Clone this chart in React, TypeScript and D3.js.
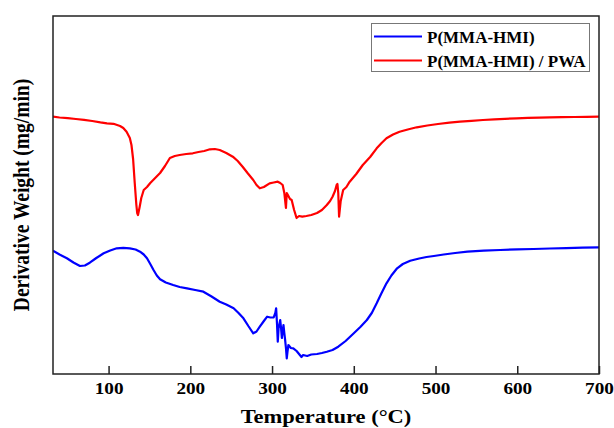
import React, { useEffect, useRef } from "react";
import * as d3 from "d3";

// temperature (°C) and derivative weight (arbitrary units, offset curves)
const redTemp = [32, 40, 50, 60, 70, 80, 90, 98, 106, 114, 118, 122, 126, 128, 130, 132, 134, 135, 136, 138, 140, 143, 147, 151, 157, 163, 169, 175, 181, 187, 195, 203, 210, 217, 224, 230, 236, 244, 252, 258, 264, 270, 277, 281, 285, 290, 297, 302, 307, 310, 313, 315, 317, 318, 320, 322, 324, 327, 330, 333, 337, 342, 348, 355, 361, 367, 371, 374, 377, 379, 380, 381, 382, 384, 387, 391, 395, 403, 411, 420, 428, 434, 440, 448, 456, 466, 477, 490, 503, 517, 530, 544, 558, 572, 585, 599, 613, 627, 640, 655, 670, 685, 700];
const redValue = [256.3, 255.5, 254.8, 254.0, 253.2, 252.0, 250.6, 249.7, 249.2, 247.0, 245.0, 241.3, 235, 228, 214, 190, 168, 160, 158, 166, 175, 183, 186, 190, 195, 200, 207, 215, 217, 218, 219, 219.7, 221, 222, 223.7, 224, 223, 220, 216.3, 212, 206.3, 200, 193, 188, 184.7, 186, 189.7, 190.5, 191.3, 190, 188, 180, 165, 180, 177, 174, 173, 163, 155, 157, 156.3, 157, 158, 160, 163, 168, 172, 176.3, 182, 188, 189, 180, 156.3, 172, 183, 186, 191.3, 199, 208, 216, 224.7, 230, 234.7, 238.5, 241.3, 243.5, 245.7, 247.5, 249, 250.3, 251.3, 252.2, 253, 253.7, 254.2, 254.7, 255.1, 255.4, 255.7, 255.9, 256, 256.2, 256.3];

const blueTemp = [32, 40, 49, 57, 65, 71, 77, 85, 94, 102, 110, 118, 126, 133, 138.5, 143, 147, 151, 155, 159, 163, 170, 179, 187, 196, 206, 216, 226, 236, 244, 253, 259, 265, 271, 277, 281, 285, 290, 294, 298, 302, 304, 305, 306, 307, 308, 310, 311, 312, 313, 314, 315, 316, 317, 318, 319, 320, 323, 326, 330, 334, 336, 338, 343, 348, 355, 361, 367, 374, 381, 390, 400, 408, 416, 422, 428, 434, 440, 446, 453, 460, 469, 480, 489, 498, 510, 524, 539, 559, 579, 600, 620, 640, 660, 680, 700];
const blueValue = [122.3, 118.5, 114.7, 110.5, 107, 107.5, 110.3, 115, 119.7, 122.5, 124.7, 125.2, 124.7, 123.5, 121.3, 118.5, 114.7, 109, 103, 97.5, 93.7, 90.5, 88, 86, 84.7, 83, 81.3, 76.5, 71.3, 68.5, 64.7, 60, 54.7, 47, 39.7, 41.5, 46.3, 52, 56.3, 55.5, 55.7, 60, 64.7, 50, 31.3, 45, 53, 45, 35, 42, 48, 40, 33, 25, 14.7, 22, 28, 25, 24.7, 22, 18, 16, 18, 17, 18.5, 19, 20, 21.3, 23, 26.3, 32, 39.7, 46, 53, 60, 69.7, 80, 89.7, 97.5, 104.7, 109, 112.3, 114.5, 116, 117, 118.5, 120, 121.3, 122.3, 123, 123.6, 124, 124.5, 124.9, 125.3, 125.7];

const xTicks = [100, 200, 300, 400, 500, 600, 700];
const seriesNames = ["P(MMA-HMI)", "P(MMA-HMI) / PWA"];
const seriesColors = ["#0000ff", "#ff0000"];

const W = 614, H = 428;
const left = 53, right = 599, top = 16, bottom = 374;

export default function App() {
  const ref = useRef<SVGSVGElement>(null);

  useEffect(() => {
    const svg = d3.select(ref.current);
    svg.selectAll("*").remove();

    const x = d3.scaleLinear().domain([32, 700]).range([left, right]);
    const y = d3.scaleLinear().domain([0, 357]).range([bottom - 1, top]);

    const line = d3
      .line<[number, number]>()
      .x((d) => x(d[0]))
      .y((d) => y(d[1]));

    const series = [
      blueTemp.map((t, i) => [t, blueValue[i]] as [number, number]),
      redTemp.map((t, i) => [t, redValue[i]] as [number, number]),
    ];

    const plot = svg.append("g");
    plot
      .append("defs")
      .append("clipPath")
      .attr("id", "clip")
      .append("rect")
      .attr("x", left)
      .attr("y", top)
      .attr("width", right - left)
      .attr("height", bottom - top);

    plot
      .selectAll("path.curve")
      .data(series)
      .join("path")
      .attr("class", "curve")
      .attr("clip-path", "url(#clip)")
      .attr("d", (d) => line(d))
      .attr("fill", "none")
      .attr("stroke", (_, i) => seriesColors[i])
      .attr("stroke-width", 2.2)
      .attr("stroke-linejoin", "round");

    // bottom axis, ticks pointing inward; the source figure is stretched sideways
    const xAxis = svg
      .append("g")
      .attr("transform", `translate(0, ${bottom})`)
      .call(d3.axisBottom(x).tickValues(xTicks).tickSizeInner(-8).tickSizeOuter(0));
    xAxis.select(".domain").remove();
    xAxis.selectAll("line").attr("stroke", "#222").attr("stroke-width", 1.5);
    xAxis
      .selectAll("text")
      .attr("x", 0)
      .attr("y", 20)
      .attr("dy", 0)
      .attr("transform", "scale(1.2,1)")
      .attr("fill", "#000")
      .style("font-family", "'Liberation Serif', serif")
      .style("font-weight", "bold")
      .style("font-size", "16px");

    // frame
    svg
      .append("rect")
      .attr("x", left)
      .attr("y", top)
      .attr("width", right - left)
      .attr("height", bottom - top)
      .attr("fill", "none")
      .attr("stroke", "#222")
      .attr("stroke-width", 1.5);

    svg
      .append("text")
      .attr("transform", "translate(326, 423) scale(1.25,1)")
      .attr("text-anchor", "middle")
      .style("font-family", "'Liberation Serif', serif")
      .style("font-weight", "bold")
      .style("font-size", "18px")
      .text("Temperature (°C)");

    svg
      .append("text")
      .attr("transform", "translate(29, 195) rotate(-90) scale(1,1.2)")
      .attr("text-anchor", "middle")
      .style("font-family", "'Liberation Serif', serif")
      .style("font-weight", "bold")
      .style("font-size", "19.5px")
      .text("Derivative Weight (mg/min)");

    // legend
    const lg = svg.append("g");
    lg.append("rect")
      .attr("x", 371.5)
      .attr("y", 23.5)
      .attr("width", 218)
      .attr("height", 48)
      .attr("fill", "#fff")
      .attr("stroke", "#777")
      .attr("stroke-width", 1);
    const rows = lg
      .selectAll("g.row")
      .data(seriesNames)
      .join("g")
      .attr("class", "row")
      .attr("transform", (_, i) => `translate(0, ${36.5 + i * 24})`);
    rows
      .append("line")
      .attr("x1", 374)
      .attr("x2", 422)
      .attr("stroke", (_, i) => seriesColors[i])
      .attr("stroke-width", 2);
    rows
      .append("text")
      .attr("x", 427)
      .attr("y", 6)
      .style("font-family", "'Liberation Serif', serif")
      .style("font-weight", "bold")
      .style("font-size", "17px")
      .text((d) => d);
  }, []);

  return (
    <svg
      ref={ref}
      width={W}
      height={H}
      style={{ position: "absolute", left: 0, top: 0, background: "#fff" }}
    />
  );
}
